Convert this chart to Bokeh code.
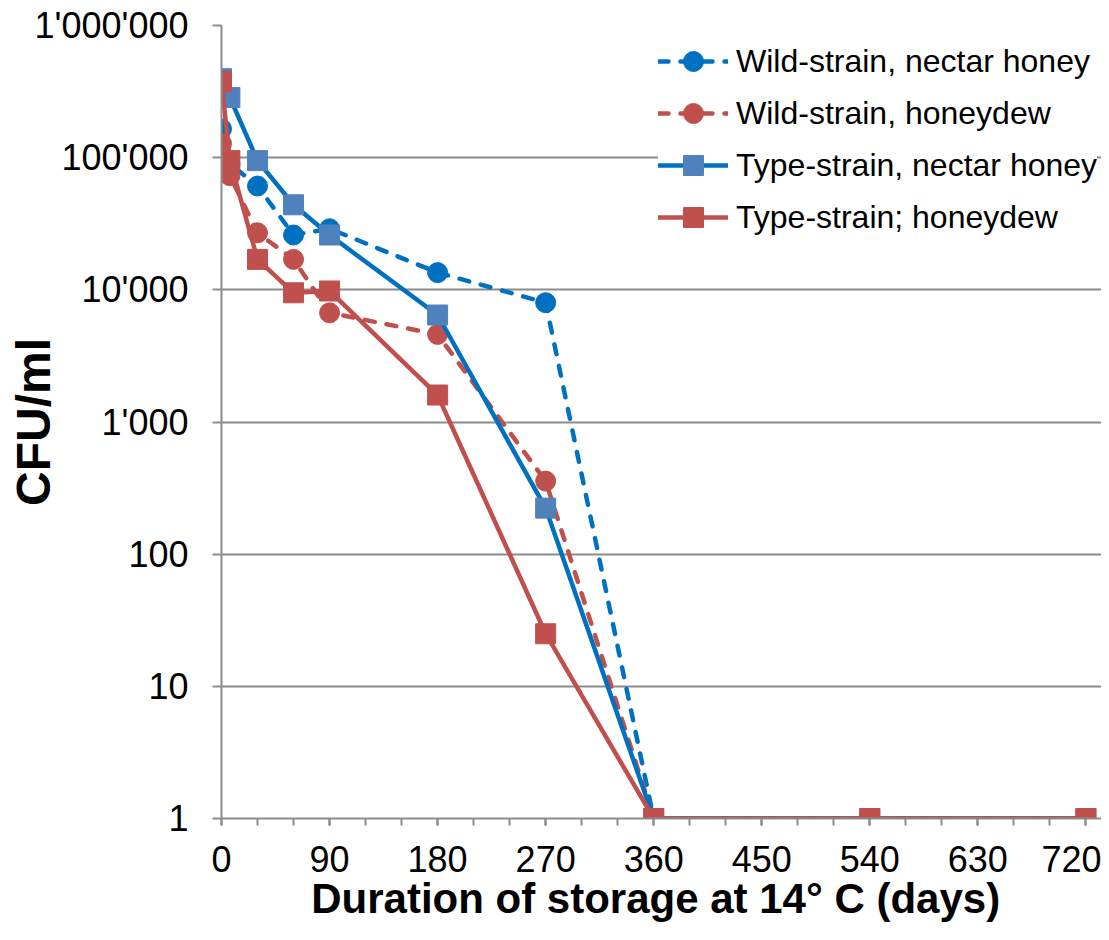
from bokeh.plotting import figure
from bokeh.models import Range1d, FixedTicker, Legend, LegendItem
from bokeh.embed import file_html
from bokeh.resources import INLINE

# ---- data ----
days = [0, 7, 30, 60, 90, 180, 270, 360, 540, 720]
wild_nectar = [165000, 90000, 61000, 26000, 29000, 13500, 8000, 1, 1, 1]
wild_honeydew = [128000, 73000, 27000, 17000, 6700, 4600, 357, 1, 1, 1]
type_nectar = [396000, 285000, 95000, 44000, 26000, 6450, 223, 1, 1, 1]
type_honeydew = [376000, 95000, 17000, 9500, 9800, 1600, 25, 1, 1, 1]

series_names = ["Wild-strain, nectar honey", "Wild-strain, honeydew",
                "Type-strain, nectar honey", "Type-strain; honeydew"]

x_label_ticks = [0, 90, 180, 270, 360, 450, 540, 630, 720]
x_minor_ticks = [0, 30, 60, 90, 120, 150, 180, 210, 240, 270, 300, 330, 360,
                 390, 420, 450, 480, 510, 540, 570, 600, 630, 660, 690, 720]
y_ticks = [1, 10, 100, 1000, 10000, 100000, 1000000]
y_tick_labels = ["1", "10", "100", "1'000", "10'000", "100'000", "1'000'000"]

x_title = "Duration of storage at  14° C (days)"
y_title = "CFU/ml"

BLUE = "#0070C0"
BLUE_SQ = "#4F81BD"
RED = "#C0504D"
GRID = "#8C8C8C"
FONT = "Liberation Sans"

p = figure(width=1101, height=924, x_range=Range1d(0, 733), y_range=Range1d(1, 1e6),
           y_axis_type="log", output_backend="svg", toolbar_location=None,
           min_border_left=221, min_border_right=0, min_border_top=25, min_border_bottom=106)
p.outline_line_color = None
p.background_fill_color = "white"
p.border_fill_color = "white"

# axes
p.xaxis.ticker = FixedTicker(ticks=x_label_ticks, minor_ticks=x_minor_ticks)
p.yaxis.ticker = FixedTicker(ticks=y_ticks)
p.yaxis.major_label_overrides = {t: l for t, l in zip(y_ticks, y_tick_labels)}
for ax in (p.xaxis, p.yaxis):
    ax.axis_line_color = GRID
    ax.axis_line_width = 2
    ax.major_tick_line_color = GRID
    ax.major_tick_line_width = 2
    ax.minor_tick_line_color = GRID
    ax.minor_tick_line_width = 2
    ax.major_tick_in = 0
    ax.minor_tick_in = 0
    ax.major_label_text_font = FONT
    ax.major_label_text_font_size = "36px"
    ax.major_label_text_color = "black"
    ax.axis_label_text_font = FONT
    ax.axis_label_text_font_style = "bold"
    ax.axis_label_text_color = "black"
p.xaxis.major_tick_out = 7
p.xaxis.minor_tick_out = 7
p.xaxis.major_label_standoff = 20
p.xaxis.axis_label = x_title
p.xaxis.axis_label_text_font_size = "42px"
p.xaxis.axis_label_standoff = 0
p.yaxis.major_tick_out = 9
p.yaxis.minor_tick_out = 0
p.yaxis.major_label_standoff = 24
p.yaxis.axis_label = y_title
p.yaxis.axis_label_text_font_size = "48px"
p.yaxis.axis_label_standoff = -28

p.xgrid.visible = False
p.ygrid.grid_line_color = GRID
p.ygrid.grid_line_width = 2
p.ygrid.minor_grid_line_color = None

# series
dash = "10 12"
r1l = p.line(days, wild_nectar, line_color=BLUE, line_width=4.5, line_dash=dash, line_cap="round")
r1m = p.scatter(days, wild_nectar, marker="circle", size=20, fill_color=BLUE, line_color=BLUE)
r2l = p.line(days, wild_honeydew, line_color=RED, line_width=4.5, line_dash=dash, line_cap="round")
r2m = p.scatter(days, wild_honeydew, marker="circle", size=20, fill_color=RED, line_color=RED)
r3l = p.line(days, type_nectar, line_color=BLUE, line_width=4.5, line_cap="round")
r3m = p.scatter(days, type_nectar, marker="square", size=20, fill_color=BLUE_SQ, line_color=BLUE_SQ)
r4l = p.line(days, type_honeydew, line_color=RED, line_width=4.5, line_cap="round")
r4m = p.scatter(days, type_honeydew, marker="square", size=20, fill_color=RED, line_color=RED)

legend = Legend(items=[
    LegendItem(label=series_names[0], renderers=[r1l, r1m]),
    LegendItem(label=series_names[1], renderers=[r2l, r2m]),
    LegendItem(label=series_names[2], renderers=[r3l, r3m]),
    LegendItem(label=series_names[3], renderers=[r4l, r4m]),
], location=(437, 576))
legend.label_text_font = FONT
legend.label_text_font_size = "32px"
legend.label_text_color = "black"
legend.glyph_width = 70
legend.glyph_height = 50
legend.label_height = 50
legend.spacing = 2
legend.padding = 5
legend.margin = 0
legend.label_standoff = 8
legend.border_line_color = None
legend.background_fill_color = "white"
legend.background_fill_alpha = 1.0
p.add_layout(legend)

open("out.html", "w").write(file_html(p, INLINE))
